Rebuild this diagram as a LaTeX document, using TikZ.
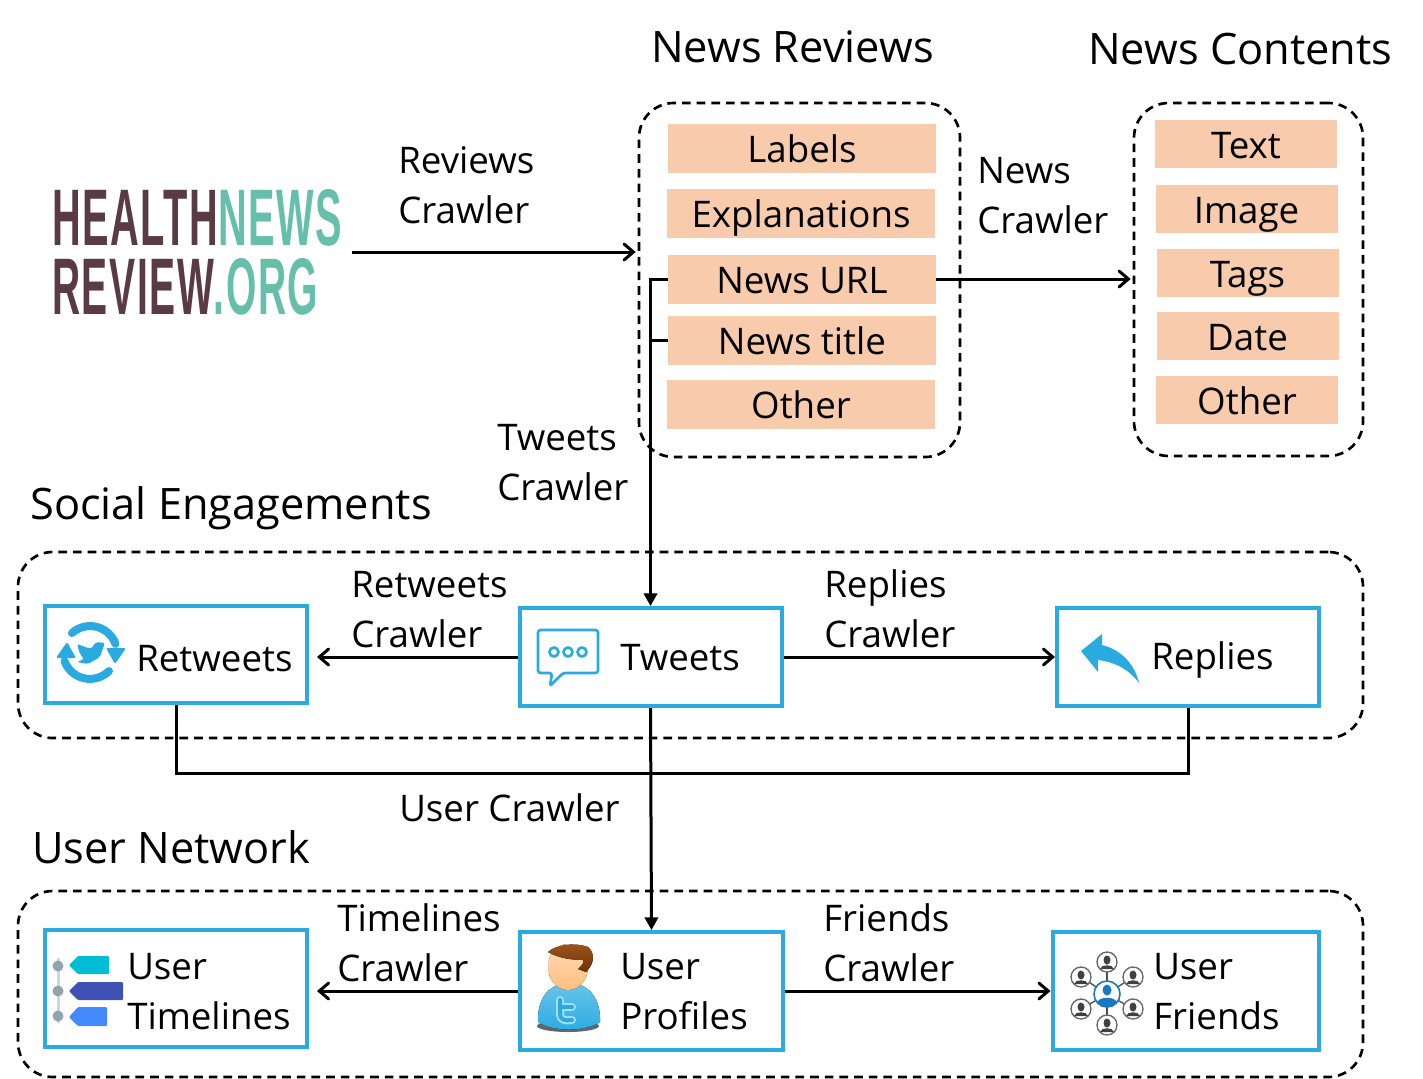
\documentclass[tikz,border=0pt]{standalone}
\usepackage{fontspec}
\usepackage{graphicx}
\usepackage{xcolor}
\setmainfont{Open Sans}
\newfontfamily\logofont[LetterSpace=4]{Liberation Sans}
\definecolor{peach}{HTML}{F8CBAD}
\definecolor{twblue}{HTML}{29ABE2}
\definecolor{logodark}{HTML}{5A3A44}
\definecolor{logoteal}{HTML}{66BFAB}
\definecolor{tagcyan}{HTML}{00BCD4}
\definecolor{tagindigo}{HTML}{3F51B5}
\definecolor{tagblue}{HTML}{448AFF}
\definecolor{dotgray}{HTML}{90A4AE}
\definecolor{bargray}{HTML}{CFD8DC}
\definecolor{hairtop}{HTML}{A0561A}
\definecolor{hairlow}{HTML}{6B3208}
\definecolor{netblue}{HTML}{1A78C2}
\usetikzlibrary{positioning, arrows, arrows.meta, shapes}
\tikzstyle{arrow} = [line width=2.25pt,->,>={Straight Barb[length=7pt,width=12pt,line cap=round]}]
\tikzstyle{arrowdown} = [line width=2.25pt,->,>={Triangle[length=9.5pt,width=10pt]}]

\begin{document}
\begin{tikzpicture}[x=0.75pt,y=-0.75pt]
        \useasboundingbox (0,0) rectangle (1423,1078);
        \tikzstyle{panel} = [draw=black, line width=2pt, dash pattern=on 6.5pt off 4.5pt, rounded corners=26pt, inner sep=0pt]
        \tikzstyle{field} = [fill=peach, inner sep=0pt, text height=22.5pt, text depth=1.5pt, font=\fontsize{27.5}{30}\selectfont]
        \tikzstyle{actor} = [draw=twblue, line width=3pt, inner sep=0pt]
        \tikzstyle{title} = [anchor=west, inner sep=0pt, font=\fontsize{32.5}{36}\selectfont]
        \tikzstyle{caption} = [anchor=west, inner sep=0pt, align=left, font=\fontsize{27.5}{37.5}\selectfont]

        % dashed groups
        \node[panel, minimum width=240.75pt, minimum height=265.5pt] (reviews) at (799.5,280) {};
        \node[panel, minimum width=171.75pt, minimum height=264.75pt] (contents) at (1248.5,279.5) {};
        \node[panel, minimum width=1008.75pt, minimum height=139.5pt] (social) at (690.5,645) {};
        \node[panel, minimum width=1008.75pt, minimum height=139.5pt] (network) at (690.5,984) {};

        \node[title] (treviews) at (651,47) {News Reviews};
        \node[title] (tcontents) at (1088,49) {News Contents};
        \node[title] (tsocial) at (30,508) {Social Engagements};
        \node[title] (tnetwork) at (32,847) {User Network};

        % news reviews
        \node[field, minimum width=201pt, minimum height=36.75pt] (labels) at (802,148.5) {Labels};
        \node[field, minimum width=201pt, minimum height=36.75pt] (explain) at (801,213.5) {Explanations};
        \node[field, minimum width=201pt, minimum height=36.75pt] (url) at (802,279) {News URL};
        \node[field, minimum width=201pt, minimum height=36.75pt] (ntitle) at (802,340.5) {News title};
        \node[field, minimum width=201pt, minimum height=36.75pt] (rother) at (801,404.5) {Other};

        % news contents
        \node[field, minimum width=136.5pt, minimum height=36pt] (text) at (1246,144) {Text};
        \node[field, minimum width=136.5pt, minimum height=36pt] (image) at (1246.5,209) {Image};
        \node[field, minimum width=136.5pt, minimum height=36pt] (tags) at (1247.5,273) {Tags};
        \node[field, minimum width=136.5pt, minimum height=36pt] (date) at (1247.5,336) {Date};
        \node[field, minimum width=136.5pt, minimum height=36pt] (cother) at (1247,400) {Other};

        % logo
        \node[anchor=west, inner ysep=0pt, inner xsep=6.75pt, font=\logofont\bfseries] (logo) at (43,252) {\vbox{\offinterlineskip
            \hbox{\resizebox{217.5pt}{42pt}{\textcolor{logodark}{HEALTH}\textcolor{logoteal}{NEWS}}}\vskip 9pt
            \hbox{\resizebox{199.5pt}{42pt}{\textcolor{logodark}{REVIEW}\textcolor{logoteal}{.ORG}}}}};

        % social engagements
        \node[actor, minimum width=196.5pt, minimum height=72.75pt] (retweets) at (176,654.5) {};
        \node[actor, minimum width=196.5pt, minimum height=73.5pt] (tweets) at (650.5,657) {};
        \node[actor, minimum width=196.5pt, minimum height=73.5pt] (replies) at (1188,656.5) {};

        % user network
        \node[actor, minimum width=196.5pt, minimum height=87.75pt] (timelines) at (176,988.5) {};
        \node[actor, minimum width=197.25pt, minimum height=88.5pt] (profiles) at (651.5,991) {};
        \node[actor, minimum width=199.5pt, minimum height=88.5pt] (friends) at (1185.5,991) {};

        \node[caption] (lretweets) at (136,659) {Retweets};
        \node[caption] (ltweets) at (620,658) {Tweets};
        \node[caption] (lreplies) at (1151,660) {Replies};
        \node[caption] (ltimelines) at (127,992) {User\\Timelines};
        \node[caption] (lprofiles) at (620,992) {User\\Profiles};
        \node[caption] (lfriends) at (1153,992) {User\\Friends};

        % crawler labels
        \node[caption] (creviews) at (398,185) {Reviews\\Crawler};
        \node[caption] (cnews) at (977,196) {News\\Crawler};
        \node[caption] (ctweets) at (497,463) {Tweets\\Crawler};
        \node[caption] (cretweets) at (351,610) {Retweets\\Crawler};
        \node[caption] (creplies) at (824,609) {Replies\\Crawler};
        \node[caption] (cuser) at (399,808) {User Crawler};
        \node[caption] (ctimelines) at (337,943) {Timelines\\Crawler};
        \node[caption] (cfriends) at (823,943) {Friends\\Crawler};

        % connectors
        \coordinate (bus) at (651,773);
        \draw[arrow, shorten >=1.5pt] (logo.east) -- (logo.east -| reviews.west);
        \draw[arrow, shorten >=1.5pt] (url.east) -- (url.east -| contents.west);
        \draw[arrowdown] (url.west) -| (tweets.north);
        \draw[line width=2.25pt] (ntitle.west) -- (ntitle.west -| tweets.north);
        \draw[arrow, shorten >=6pt] (tweets.west) -- (tweets.west -| retweets.east);
        \draw[arrow] (tweets.east) -- (tweets.east -| replies.west);
        \draw[line width=2.25pt] (retweets.south) |- (bus) -| (replies.south);
        \draw[arrowdown] (tweets.south) -- (profiles.north);
        \draw[arrow, shorten >=6pt] (profiles.west) -- (profiles.west -| timelines.east);
        \draw[arrow] (profiles.east) -- (profiles.east -| friends.west);

        % retweet icon
        \draw[twblue, line width=6pt, line cap=round] (72,633) arc (-132:-20:27);
        \draw[twblue, line width=6pt, line cap=round] (109,671) arc (45:160:27);
        \fill[twblue, rounded corners=1.5pt] (106,648) -- (126,648) -- (115,664) -- cycle;
        \fill[twblue, rounded corners=1.5pt] (56,658) -- (76,658) -- (67,642) -- cycle;
        \fill[twblue, rounded corners=1.5pt] (105,643) -- (96,642) -- (91,649) -- (77,644) -- (80,654) -- (84,659) -- (77,662) -- (88,664) -- (100,657) -- (103,648) -- cycle;

        % tweet icon
        \draw[twblue, line width=2pt, rounded corners=2pt] (563,673) -- (550,686) -- (552,673) -- (538,673) -- (538,630) -- (598,630) -- (598,673) -- cycle;
        \foreach \x in {554,568,582}
            \draw[twblue, line width=2pt] (\x,652) circle (4.5);

        % reply icon
        \fill[twblue] (1081,651) -- (1102,634) -- (1102,645) .. controls (1122,650) and (1135,665) .. (1139,683) .. controls (1130,670) and (1115,662) .. (1098,660) -- (1098,672) -- cycle;

        % timeline icon
        \draw[bargray, line width=2.25pt] (58,958) -- (58,1023);
        \foreach \y in {966,991,1016}
            \fill[dotgray] (58,\y) circle (5.5);
        \fill[tagcyan, rounded corners=0.75pt] (69,965) -- (78,956) -- (109,956) -- (109,974) -- (78,974) -- cycle;
        \fill[tagindigo, rounded corners=0.75pt] (69,991) -- (78,982) -- (123,982) -- (123,1000) -- (78,1000) -- cycle;
        \fill[tagblue, rounded corners=0.75pt] (69,1017) -- (78,1007) -- (107,1007) -- (107,1026) -- (78,1026) -- cycle;

        % profile icon
        \fill[black!60] (568,1026) ellipse (31 and 6);
        \fill[top color=twblue!70!white, bottom color=twblue] (538,1022) .. controls (537,995) and (552,983) .. (569,983) .. controls (586,983) and (601,995) .. (600,1022) .. controls (585,1032) and (553,1032) .. (538,1022);
        \fill[top color=orange!30!white, bottom color=orange!50!white] (568,967) ellipse (20 and 23);
        \fill[top color=hairtop, bottom color=hairlow] (548,952) .. controls (555,945) and (575,942) .. (588,947) .. controls (594,952) and (596,962) .. (586,972) -- (578,969) .. controls (583,965) and (584,962) .. (583,960) .. controls (572,960) and (558,958) .. (548,952);
        \draw[twblue!40!white, line width=6pt, line cap=round, line join=round] (560,1000) -- (560,1014) .. controls (560,1020) and (565,1021) .. (572,1020);
        \draw[twblue!40!white, line width=6pt, line cap=round] (560,1007) -- (572,1007);
        \draw[twblue, line width=3pt, line cap=round, line join=round] (560,1000) -- (560,1014) .. controls (560,1020) and (565,1021) .. (572,1020);
        \draw[twblue, line width=3pt, line cap=round] (560,1007) -- (572,1007);

        % friends icon
        \foreach \x/\y in {1107/962,1081/977,1133/977,1081/1009,1133/1009,1107/1025} {
            \draw[black!70, line width=1pt] (1107,994) -- (\x,\y);
            \fill[white] (\x,\y) circle (10);
            \draw[black!60, line width=1pt] (\x,\y) circle (10);
            \fill[black!75] (\x,\y-2) ellipse (3.5 and 4.5);
            \fill[black!75] (\x-7,\y+7) .. controls (\x-6,\y+2) and (\x+6,\y+2) .. (\x+7,\y+7) -- cycle;
        }
        \fill[white] (1107,994) circle (13);
        \draw[netblue, line width=1.2pt] (1107,994) circle (13);
        \fill[netblue] (1107,990) ellipse (4.5 and 5.5);
        \fill[netblue] (1097,1003) .. controls (1098,996) and (1116,996) .. (1117,1003) -- (1112,1006.5) -- (1102,1006.5) -- cycle;
\end{tikzpicture}
\end{document}
